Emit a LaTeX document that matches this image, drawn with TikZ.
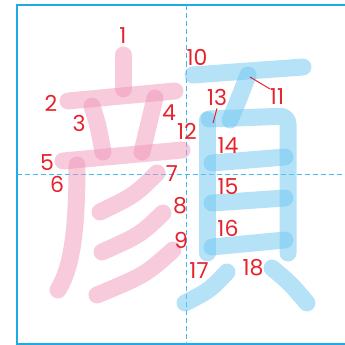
\documentclass[tikz,border=0pt]{standalone}
\usepackage{fontspec}
\newfontfamily\numfont{Poppins}
\definecolor{framebl}{RGB}{30,170,230}
\definecolor{gridbl}{RGB}{70,185,235}
\definecolor{strpink}{RGB}{240,150,185}
\definecolor{strblue}{RGB}{110,198,240}
\definecolor{numred}{RGB}{230,35,45}
\tikzset{
  pinkstroke/.style={line width=17pt, line cap=round, line join=round,
                     draw=strpink, draw opacity=0.5},
  bluestroke/.style={line width=17pt, line cap=round, line join=round,
                     draw=strblue, draw opacity=0.5},
  num/.style={text=numred, font=\numfont\fontsize{22}{22}\selectfont, inner sep=0pt},
  leader/.style={draw=numred, line width=1pt},
}

\begin{document}
\begin{tikzpicture}[x=1pt, y=-1pt]
  \useasboundingbox (0,0) rectangle (345,345);
  \clip (0,0) rectangle (345,345);
  % frame and guide lines
  \draw[framebl, line width=2pt] (16.5,5.5) rectangle (357,344);
  \draw[gridbl, line width=0.8pt, dash pattern=on 5pt off 3pt] (186.5,5.5) -- (186.5,344);
  \draw[gridbl, line width=0.8pt, dash pattern=on 5pt off 3pt] (16.5,174.5) -- (357,174.5);

  % left part
  \draw[pinkstroke] (123,55) -- (123,89);
  \draw[pinkstroke] (68,101) -- (175,91);
  \draw[pinkstroke] (92,106) .. controls (98,125) .. (103,152);
  \draw[pinkstroke] (155,98) -- (142,152);
  \draw[pinkstroke] (63,161) -- (182,150);
  \draw[pinkstroke] (77,165) .. controls (77,240) and (70,270) .. (58,290);
  \draw[pinkstroke] (157,173) .. controls (135,195) .. (100,212);
  \draw[pinkstroke] (163,213) .. controls (140,235) .. (102,252);
  \draw[pinkstroke] (173,250) .. controls (145,275) .. (97,295);

  % right part
  \draw[bluestroke] (193,75) -- (303,67);
  \draw[bluestroke] (248,75) .. controls (240,96) .. (230,120);
  \draw[bluestroke] (207,120) -- (207,253);
  \draw[bluestroke, rounded corners=8pt] (209,119) -- (288,116) -- (288,253);
  \draw[bluestroke] (212,163) -- (285,157);
  \draw[bluestroke] (212,203) -- (285,198);
  \draw[bluestroke] (212,247) -- (285,240);
  \draw[bluestroke] (227,272) .. controls (210,290) .. (185,303);
  \draw[bluestroke] (272,268) .. controls (290,283) .. (307,303);

  % stroke numbers
  \foreach \i/\x/\y in {1/123/36, 2/51/103, 3/79/123, 4/169/113, 5/47/163,
      6/57/184, 7/172/174, 8/180/206, 9/181/240, 10/197/57, 11/277/97,
      12/187/131, 13/217/97, 14/228/146, 15/228/187, 16/228/228,
      17/199/271, 18/253/268}
    \node[num] (n\i) at (\x,\y) {\i};

  \coordinate (p11) at (250,77);
  \coordinate (p13) at (213,123);
  \draw[leader] (p11) -- (n11.north west);
  \draw[leader] (n13.south) ++(0,3) coordinate (q13) -- (p13);
\end{tikzpicture}
\end{document}
